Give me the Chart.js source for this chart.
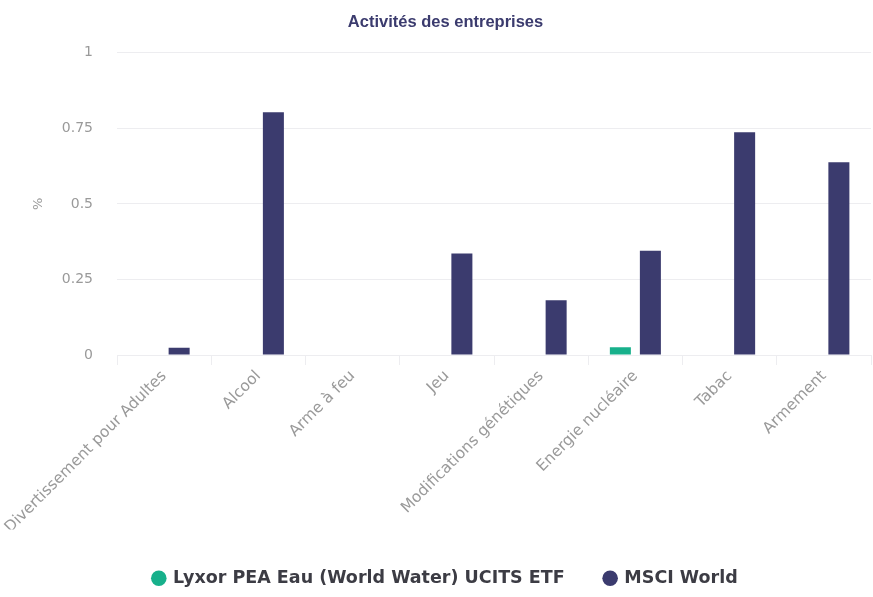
<!DOCTYPE html>
<html>
<head>
<meta charset="utf-8">
<script src="https://cdn.jsdelivr.net/npm/chart.js@4"></script>
<style>
  html, body { margin: 0; padding: 0; background: #fff; }
  #wrap { width: 873px; height: 597px; position: relative; }
</style>
</head>
<body>
<div id="wrap"><canvas id="bc"></canvas></div>
<script>
'use strict';

// Bar chart: share of revenue from controversial business activities,
// fund vs benchmark.

const CATEGORIES = ['Divertissement pour Adultes', 'Alcool', 'Arme à feu', 'Jeu',
                    'Modifications génétiques', 'Energie nucléaire', 'Tabac', 'Armement'];
const LYXOR_VALUES = [0, 0, 0, 0, 0, 0.026, 0, 0];
const MSCI_VALUES  = [0.024, 0.803, 0, 0.336, 0.181, 0.345, 0.737, 0.638];
const SERIES_NAMES = ['Lyxor PEA Eau (World Water) UCITS ETF', 'MSCI World'];
const Y_TICKS = [0, 0.25, 0.5, 0.75, 1];

const NAVY = '#3b3b6e';
const TEAL = '#17b08b';
const GRID = '#ededf0';
const TICK_GREY = '#9a9a9a';
const SANS = '"DejaVu Sans", Verdana, sans-serif';

const ctx = document.getElementById('bc').getContext('2d');
const barChart = new Chart(ctx, {
  type: 'bar',
  data: {
    labels: CATEGORIES,
    datasets: [
      {label: SERIES_NAMES[0], data: LYXOR_VALUES, backgroundColor: TEAL, borderWidth: 0},
      {label: SERIES_NAMES[1], data: MSCI_VALUES,  backgroundColor: NAVY, borderWidth: 0},
    ],
  },
  options: {
    responsive: true,
    maintainAspectRatio: false,
    animation: false,
    categoryPercentage: 0.637,
    barPercentage: 0.7,
    layout: {padding: {left: 20, right: 2, top: 0, bottom: 0}},
    plugins: {
      title: {
        display: true,
        text: 'Activités des entreprises',
        color: NAVY,
        font: {family: '"Liberation Sans", Arial, sans-serif', size: 16.5, weight: 'bold'},
        padding: {top: 13, bottom: 20},
      },
      legend: {
        position: 'bottom',
        labels: {
          usePointStyle: true,
          pointStyle: 'circle',
          boxWidth: 11, boxHeight: 11,
          padding: 40,
          color: '#3c3c44',
          font: {family: SANS, size: 17.5, weight: 'bold'},
        },
      },
      tooltip: {enabled: false},
    },
    scales: {
      x: {
        grid: {display: true, drawOnChartArea: false, drawTicks: true, tickLength: 10, color: GRID},
        border: {display: true, color: GRID},
        ticks: {
          color: TICK_GREY, minRotation: 45, maxRotation: 45, padding: 2,
          font: {family: SANS, size: 15.5},
        },
        // let the first rotated label run off the left edge as in the original
        afterFit: s => { s.paddingLeft = 0; s.height = 174.5; },
      },
      y: {
        min: 0, max: 1,
        afterBuildTicks: s => { s.ticks = Y_TICKS.map(v => ({value: v})); },
        grid: {color: GRID, drawTicks: false},
        border: {display: false},
        ticks: {
          color: TICK_GREY, padding: 24,
          font: {family: SANS, size: 14},
          callback: v => String(v),
        },
        title: {
          display: true, text: '%', color: TICK_GREY,
          font: {family: SANS, size: 13},
          padding: {top: 11, bottom: 0},
        },
        afterFit: s => { s.width = 97; },
      },
    },
  },
});
</script>
</body>
</html>
